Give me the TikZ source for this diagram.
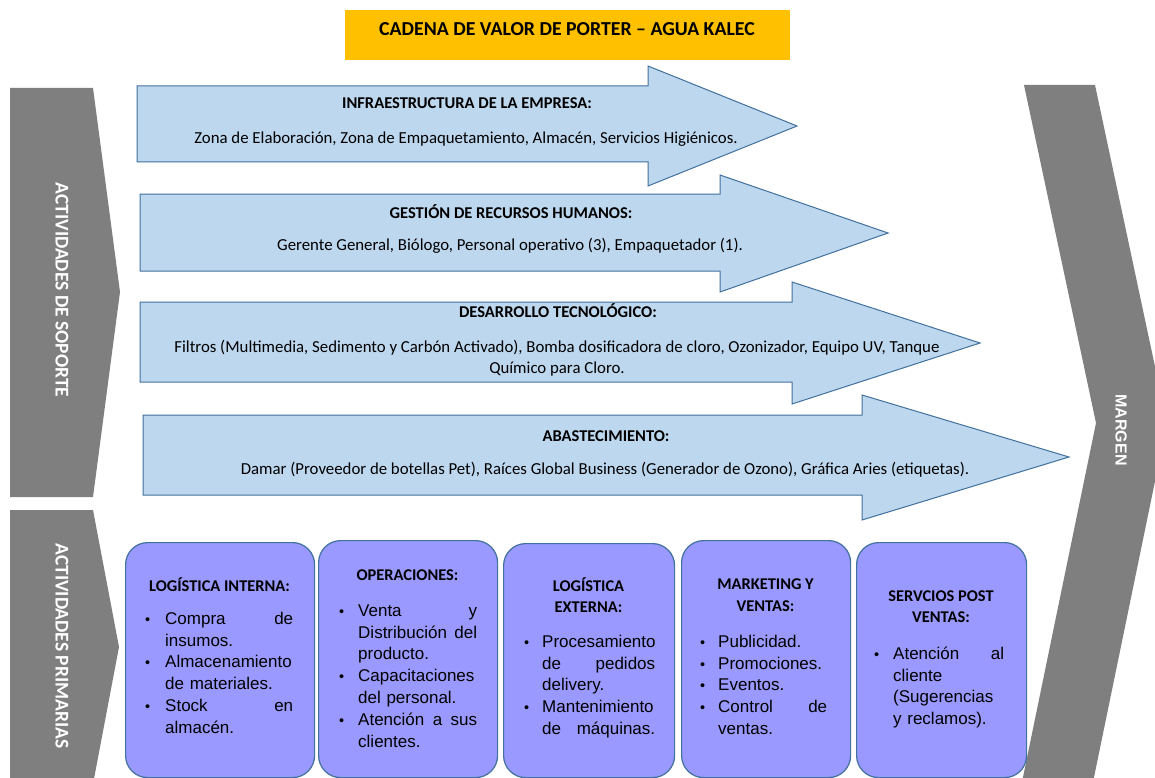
\documentclass[tikz,border=0pt]{standalone}
\usepackage{fontspec}
\setmainfont{Carlito}
\newfontfamily\arialf{Liberation Sans}
\definecolor{barg}{HTML}{7F7F7F}
\definecolor{titley}{HTML}{FFC000}
\definecolor{arrowfill}{HTML}{BDD7EE}
\definecolor{arrowline}{HTML}{41719C}
\definecolor{boxfill}{HTML}{9999FF}
\definecolor{boxline}{HTML}{41719C}
\newlength{\bind}
\newcommand{\bi}[1]{\makebox[\bind][l]{\scalebox{0.85}{\textbullet}}#1}
\newcommand{\bc}[1]{\hspace*{\bind}#1}
\tikzset{
  arrowshape/.style={fill=arrowfill, draw=arrowline, line width=1pt, line join=miter},
  graybar/.style={fill=barg, draw=none},
  actbox/.style={draw=boxline, fill=boxfill, line width=1.2pt, rounded corners=22pt, inner sep=0, anchor=north west},
  atitle/.style={font=\fontsize{16.5}{18}\selectfont\bfseries, inner sep=0, anchor=base},
  atext/.style={font=\fontsize{16.8}{18}\selectfont, inner sep=0, anchor=base},
  btitle/.style={font=\fontsize{16.4}{18}\selectfont\bfseries, inner sep=0, anchor=base},
  blist/.style={font=\arialf\fontsize{17}{21.8}\selectfont, inner sep=0, anchor=north west, align=left},
  sidelabel/.style={font=\fontsize{19.5}{20}\selectfont\bfseries, text=white, rotate=-90, inner sep=0},
}
\begin{document}
\begin{tikzpicture}[x=1pt,y=-1pt]
\path[use as bounding box, fill=white] (0,0) rectangle (1155,778);
\clip (0,0) rectangle (1155,778);

% title
\node[fill=titley, minimum width=445pt, minimum height=50pt, inner sep=0, anchor=north west] (titlebox) at (345,10) {};
\node[font=\fontsize{19.8}{22}\selectfont\bfseries, inner sep=0, anchor=base] (title) at (567,36) {CADENA DE VALOR DE PORTER – AGUA KALEC};

% side bars
\path[graybar] (10,88) -- (93,88) -- (120,292) -- (93,497) -- (10,497) -- cycle;
\path[graybar] (10,510) -- (93,510) -- (119,647) -- (93,784) -- (10,784) -- cycle;
\path[graybar] (1024,85) -- (1095,85) -- (1167,423) -- (1093,782) -- (1022,782) -- (1096,423) -- cycle;
\node[sidelabel] (soporte) at (62,290) {ACTIVIDADES DE SOPORTE};
\node[sidelabel] (primarias) at (62,646) {ACTIVIDADES PRIMARIAS};
\node[font=\arialf\fontsize{16}{18}\selectfont\bfseries, text=white, rotate=-90, inner sep=0] (margen) at (1121,430) {MARGEN};

% support arrows
\draw[arrowshape] (137,86) -- (648,86) -- (648,66) -- (797,126) -- (648,186) -- (648,162) -- (137,162) -- cycle;
\draw[arrowshape] (140,194) -- (720,194) -- (720,175) -- (888,233) -- (720,292) -- (720,271) -- (140,271) -- cycle;
\draw[arrowshape] (140,302) -- (792,302) -- (792,282) -- (980,343) -- (792,404) -- (792,382) -- (140,382) -- cycle;
\draw[arrowshape] (143,415) -- (862,415) -- (862,395) -- (1069,457) -- (862,520) -- (862,495) -- (143,495) -- cycle;

\node[atitle] (a1t) at (467,109) {INFRAESTRUCTURA DE LA EMPRESA:};
\node[atext] (a1x) at (466,144) {Zona de Elaboración, Zona de Empaquetamiento, Almacén, Servicios Higiénicos.};
\node[atitle] (a2t) at (511,218) {GESTIÓN DE RECURSOS HUMANOS:};
\node[atext] (a2x) at (510,250) {Gerente General, Biólogo, Personal operativo (3), Empaquetador (1).};
\node[atitle] (a3t) at (558,317) {DESARROLLO TECNOLÓGICO:};
\node[atext] (a3x) at (557,352) {Filtros (Multimedia, Sedimento y Carbón Activado), Bomba dosificadora de cloro, Ozonizador, Equipo UV, Tanque};
\node[atext] (a3y) at (557,373) {Químico para Cloro.};
\node[atitle] (a4t) at (606,441) {ABASTECIMIENTO:};
\node[atext] (a4x) at (605,474) {Damar (Proveedor de botellas Pet), Raíces Global Business (Generador de Ozono), Gráfica Aries (etiquetas).};

% primary activity boxes
\node[actbox, minimum width=189pt, minimum height=235pt] (b1) at (125,542) {};
\node[actbox, minimum width=179pt, minimum height=237pt] (b2) at (318,540) {};
\node[actbox, minimum width=171pt, minimum height=234pt] (b3) at (503,543) {};
\node[actbox, minimum width=169pt, minimum height=237pt] (b4) at (681,540) {};
\node[actbox, minimum width=170pt, minimum height=235pt] (b5) at (856,542) {};

\node[btitle] (b1t) at (219.5,591.5) {LOGÍSTICA INTERNA:};
\node[btitle] (b2t) at (407.5,580.5) {OPERACIONES:};
\node[btitle] (b3t) at (588.5,591.5) {LOGÍSTICA};
\node[btitle] (b3u) at (588.5,612.5) {EXTERNA:};
\node[btitle] (b4t) at (765.5,589.5) {MARKETING Y};
\node[btitle] (b4u) at (765.5,611.5) {VENTAS:};
\node[btitle] (b5t) at (941,601.5) {SERVCIOS POST};
\node[btitle] (b5u) at (941,622.5) {VENTAS:};

\setlength{\bind}{20pt}
\node[blist, text width=148pt] (b1l) at (145,611) {\rule{0pt}{13pt}\bi{Compra\hfill de}\\ \bc{insumos.}\\ \bi{Almacenamiento}\\ \bc{de materiales.}\\ \bi{Stock\hfill en}\\ \bc{almacén.}};
\setlength{\bind}{19pt}
\node[blist, text width=138pt] (b2l) at (339,603) {\rule{0pt}{13pt}\bi{Venta\hfill y}\\ \bc{Distribución\hfill del}\\ \bc{producto.}\\ \bi{Capacitaciones}\\ \bc{del personal.}\\ \bi{Atención\hfill a\hfill sus}\\ \bc{clientes.}};
\setlength{\bind}{18pt}
\node[blist, text width=131pt] (b3l) at (524,634) {\rule{0pt}{13pt}\bi{Procesamiento}\\ \bc{de\hfill pedidos}\\ \bc{delivery.}\\ \bi{Mantenimiento}\\ \bc{de\hfill máquinas.}};
\node[blist, text width=127pt] (b4l) at (700,634) {\rule{0pt}{13pt}\bi{Publicidad.}\\ \bi{Promociones.}\\ \bi{Eventos.}\\ \bi{Control\hfill de}\\ \bc{ventas.}};
\setlength{\bind}{19pt}
\node[blist, text width=130pt] (b5l) at (874,646) {\rule{0pt}{13pt}\bi{Atención\hfill al}\\ \bc{cliente}\\ \bc{(Sugerencias}\\ \bc{y reclamos).}};
\end{tikzpicture}
\end{document}
